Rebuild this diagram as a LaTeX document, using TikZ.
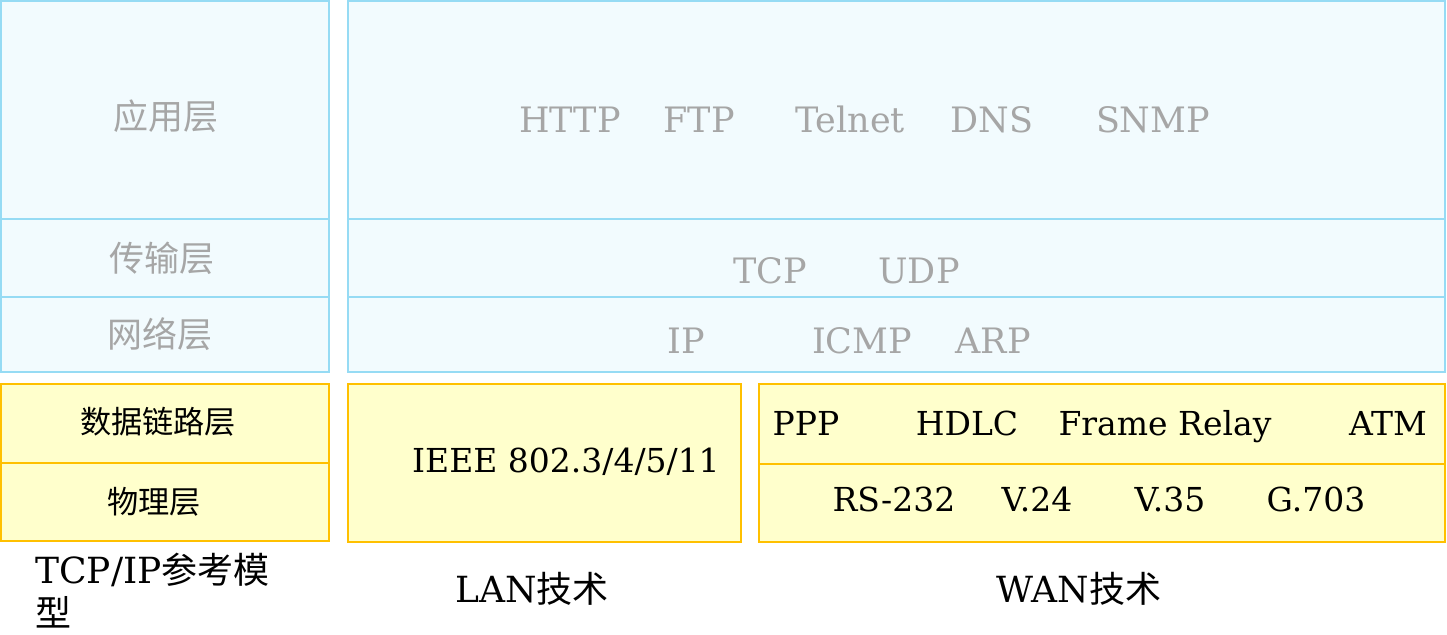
\documentclass[tikz,border=0pt]{standalone}
\usepackage{fontspec}
\usepackage{tikz}
\setmainfont{DejaVu Serif}
\newfontfamily\cjk{Noto Sans CJK SC}
\definecolor{layerline}{HTML}{96DBF4}
\definecolor{layerfill}{HTML}{F2FBFE}
\definecolor{protogray}{HTML}{A6A6A6}
\definecolor{techfill}{HTML}{FFFFCC}
\definecolor{techline}{HTML}{FFC000}

\begin{document}
\begin{tikzpicture}[x=0.5pt, y=-0.5pt,
    upper/.style={draw=layerline, fill=layerfill, line width=1pt},
    lower/.style={draw=techline, fill=techfill, line width=1pt},
    proto/.style={text=protogray, font=\fontsize{17.5}{20}\selectfont, inner sep=0pt, anchor=base},
    layername/.style={text=protogray, font=\cjk\fontsize{17.5}{20}\selectfont, inner sep=0pt},
    tech/.style={font=\fontsize{16.5}{19}\selectfont, inner sep=0pt, anchor=base},
    techname/.style={font=\cjk\fontsize{15.6}{19}\selectfont, inner sep=0pt},
    caption/.style={font=\fontsize{18}{21.5}\selectfont, inner sep=0pt}]
  \useasboundingbox (0,0) rectangle (1447,634);

  % upper layers
  \draw[upper] (1,1) rectangle (329,372);
  \draw[upper] (348,1) rectangle (1445,372);
  \draw[layerline, line width=1pt] (1,219) -- (329,219);
  \draw[layerline, line width=1pt] (1,297) -- (329,297);
  \draw[layerline, line width=1pt] (348,219) -- (1445,219);
  \draw[layerline, line width=1pt] (348,297) -- (1445,297);

  % lower layers
  \draw[lower] (1,384) rectangle (329,541);
  \draw[lower] (348,384) rectangle (741,542);
  \draw[lower] (759,384) rectangle (1445,542);
  \draw[techline, line width=1pt] (1,463) -- (329,463);
  \draw[techline, line width=1pt] (759,464) -- (1445,464);

  \node[layername] (app) at (166,116) {应用层};
  \node[layername] (trans) at (162,258) {传输层};
  \node[layername] (net) at (160,334) {网络层};
  \node[techname] (link) at (158,422) {数据链路层};
  \node[techname] (phys) at (154,502) {物理层};

  \node[proto] (http) at (570,132) {HTTP};
  \node[proto] (ftp) at (699,132) {FTP};
  \node[proto] (telnet) at (850,132) {Telnet};
  \node[proto] (dns) at (992,132) {DNS};
  \node[proto] (snmp) at (1153,132) {SNMP};
  \node[proto] (tcp) at (770,283) {TCP};
  \node[proto] (udp) at (919,283) {UDP};
  \node[proto] (ip) at (686,353) {IP};
  \node[proto] (icmp) at (862,353) {ICMP};
  \node[proto] (arp) at (993,353) {ARP};

  \node[tech] (ieee) at (566,472) {IEEE 802.3/4/5/11};
  \node[tech] (ppp) at (806,435) {PPP};
  \node[tech] (hdlc) at (967,435) {HDLC};
  \node[tech] (fr) at (1165,435) {Frame Relay};
  \node[tech] (atm) at (1388,435) {ATM};
  \node[tech] (rs) at (894,511) {RS-232};
  \node[tech] (v24) at (1037,511) {V.24};
  \node[tech] (v35) at (1170,511) {V.35};
  \node[tech] (g703) at (1316,511) {G.703};

  \node[caption, align=left, anchor=north west] (model) at (35,553) {TCP/IP{\cjk 参考模}\\{\cjk 型}};
  \node[caption, anchor=base] (lan) at (532,602) {LAN{\cjk 技术}};
  \node[caption, anchor=base] (wan) at (1079,602) {WAN{\cjk 技术}};
\end{tikzpicture}
\end{document}
